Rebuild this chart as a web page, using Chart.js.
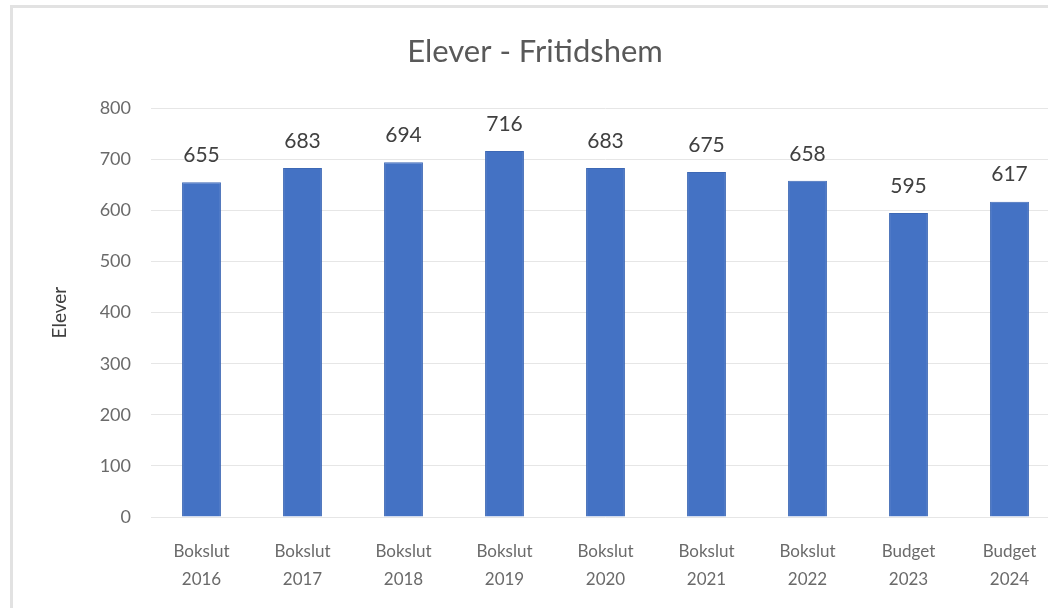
<!DOCTYPE html>
<html>
<head>
<meta charset="utf-8">
<script src="https://cdn.jsdelivr.net/npm/chart.js@4.4.0/dist/chart.umd.min.js"></script>
<style>
  html, body { margin: 0; padding: 0; background: #fff; overflow: hidden; width: 1048px; height: 608px; }
  #ram { position: absolute; left: 10px; top: 5px; width: 1060px; height: 610px;
         border-left: 3px solid #e2e2e2; border-top: 3px solid #e2e2e2; box-sizing: border-box; }
  #wrap { position: absolute; left: 10px; top: 5px; width: 1050px; height: 603px; }
</style>
</head>
<body>
<div id="ram"></div>
<div id="wrap"><canvas id="chart"></canvas></div>
<script>
// data
const kategorier = [
  ["Bokslut", "2016"], ["Bokslut", "2017"], ["Bokslut", "2018"],
  ["Bokslut", "2019"], ["Bokslut", "2020"], ["Bokslut", "2021"],
  ["Bokslut", "2022"], ["Budget", "2023"], ["Budget", "2024"]
];
const elever = [655, 683, 694, 716, 683, 675, 658, 595, 617];
const yTicks = [0, 100, 200, 300, 400, 500, 600, 700, 800];

const font = "Lato, 'Open Sans', sans-serif";

// egna etiketter ovanför staplarna
const stapelEtiketter = {
  id: "stapelEtiketter",
  afterDatasetsDraw(chart) {
    const ctx = chart.ctx;
    const meta = chart.getDatasetMeta(0);
    ctx.save();
    ctx.font = "21px " + font;
    ctx.fillStyle = "#404040";
    ctx.textAlign = "center";
    ctx.textBaseline = "middle";
    meta.data.forEach((bar, i) => {
      ctx.fillText(elever[i], bar.x, bar.y - 27);
    });
    ctx.restore();
  }
};

new Chart(document.getElementById("chart"), {
  type: "bar",
  data: {
    labels: kategorier,
    datasets: [{
      label: "Elever",
      data: elever,
      backgroundColor: "#4472c4",
      borderColor: "#3d68b5",
      borderWidth: 1,
      barPercentage: 0.385,
      categoryPercentage: 1
    }]
  },
  options: {
    responsive: true,
    maintainAspectRatio: false,
    animation: false,
    layout: { padding: 0 },
    plugins: {
      legend: { display: false },
      tooltip: { enabled: false },
      title: {
        display: true,
        text: "Elever - Fritidshem",
        color: "#595959",
        font: { family: font, size: 31, weight: "normal", lineHeight: 1.2 },
        padding: { top: 28, bottom: 38 }
      }
    },
    scales: {
      x: {
        grid: { display: false },
        border: { display: false },
        ticks: {
          color: "#6a6a6a",
          font: { family: font, size: 17, lineHeight: 1.65 },
          padding: 12,
          maxRotation: 0,
          autoSkip: false
        },
        afterFit(scale) { scale.height = 91; }
      },
      y: {
        min: 0,
        max: 800,
        afterBuildTicks(scale) { scale.ticks = yTicks.map(v => ({ value: v })); },
        grid: { color: "#e6e6e6", drawTicks: false },
        border: { display: false },
        ticks: {
          color: "#6a6a6a",
          font: { family: font, size: 18 },
          padding: 20
        },
        title: {
          display: true,
          text: "Elever",
          color: "#404040",
          font: { family: font, size: 19 },
          padding: { top: 38 }
        },
        afterFit(scale) { scale.width = 141; }
      }
    }
  },
  plugins: [stapelEtiketter]
});
</script>
</body>
</html>
